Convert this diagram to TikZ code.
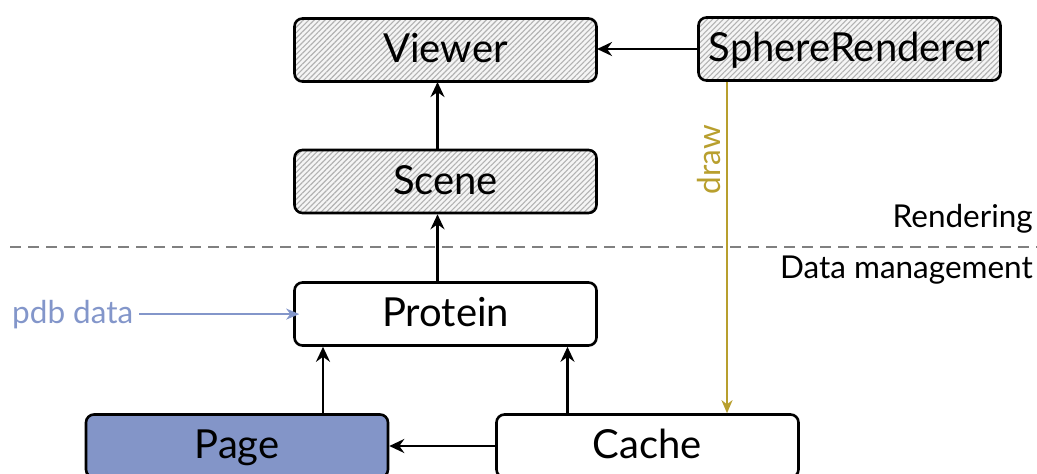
\documentclass[tikz,border=0pt]{standalone}
\usepackage{fontspec}
\setmainfont{Lato}
\usetikzlibrary{patterns.meta,arrows.meta}
\definecolor{pagefill}{HTML}{8395C8}
\definecolor{drawcol}{HTML}{B89F2E}
\definecolor{pdbcol}{HTML}{8396CA}
\definecolor{sepcol}{HTML}{808080}
\begin{document}
\begin{tikzpicture}[x=1pt,y=-1pt,
  box/.style={draw=black, line width=2.6pt, rounded corners=8pt,
    minimum width=302pt, minimum height=63pt, inner sep=0pt,
    text height=29pt, text depth=4pt,
    font=\fontsize{40}{44}\selectfont},
  hatched/.style={box, preaction={fill=gray!8},
    pattern={Lines[angle=45,distance=3.8pt,line width=1.1pt]},
    pattern color=gray!60},
  plain/.style={box, fill=white},
  small/.style={font=\fontsize{31.5}{36}\selectfont, inner sep=0pt},
  arr/.style={line width=2.4pt, -{Stealth[length=15pt,width=14pt,inset=5pt]}},
  thinarr/.style={line width=2pt, -{Stealth[length=13pt,width=11pt,inset=4pt]}},
]
\useasboundingbox (0,0) rectangle (1037,474);

% rendering layer
\node[hatched] (viewer) at (445.5,50) {Viewer};
\node[hatched] (sphere) at (849.5,49) {SphereRenderer};
\node[hatched] (scene)  at (445.5,181.5) {Scene};

% data management layer
\node[plain] (protein) at (445.5,314) {Protein};
\node[box, fill=pagefill] (page) at (237,446) {Page};
\node[plain] (cache) at (647.5,446) {Cache};

% layer separator and labels
\coordinate (sepL) at (10,247);
\coordinate (sepR) at (1037,247);
\draw[sepcol, line width=1.5pt, dash pattern=on 11pt off 7pt] (sepL) -- (sepR);
\node[small, anchor=base east] (rend) at (1033,227) {Rendering};
\node[small, anchor=base east] (dm) at (1033,278) {Data management};

% connectors
\draw[arr] ([xshift=-8pt]scene.north) -- ([xshift=-8pt]viewer.south);
\draw[arr] ([xshift=-8pt]protein.north) -- ([xshift=-8pt]scene.south);
\draw[arr] (sphere.west) -- (sphere.west -| viewer.east);
\draw[arr] ([xshift=86pt]page.north) -- ([xshift=86pt]page.north |- protein.south);
\draw[arr] ([xshift=-80pt]cache.north) -- ([xshift=-80pt]cache.north |- protein.south);
\draw[arr] (cache.west) -- (cache.west -| page.east);

% input data
\node[small, anchor=base west, text=pdbcol] (pdb) at (12,323) {pdb data};
\draw[thinarr, pdbcol] ([xshift=6pt]pdb.east) -- ([xshift=6pt]pdb.east -| protein.west);

% draw call
\draw[thinarr, drawcol] ([xshift=-122.5pt]sphere.south) -- ([xshift=-122.5pt]sphere.south |- cache.north)
  node[pos=0.235, left=5pt, rotate=90, anchor=south, small, text=drawcol] (drawlbl) {draw};
\end{tikzpicture}
\end{document}
